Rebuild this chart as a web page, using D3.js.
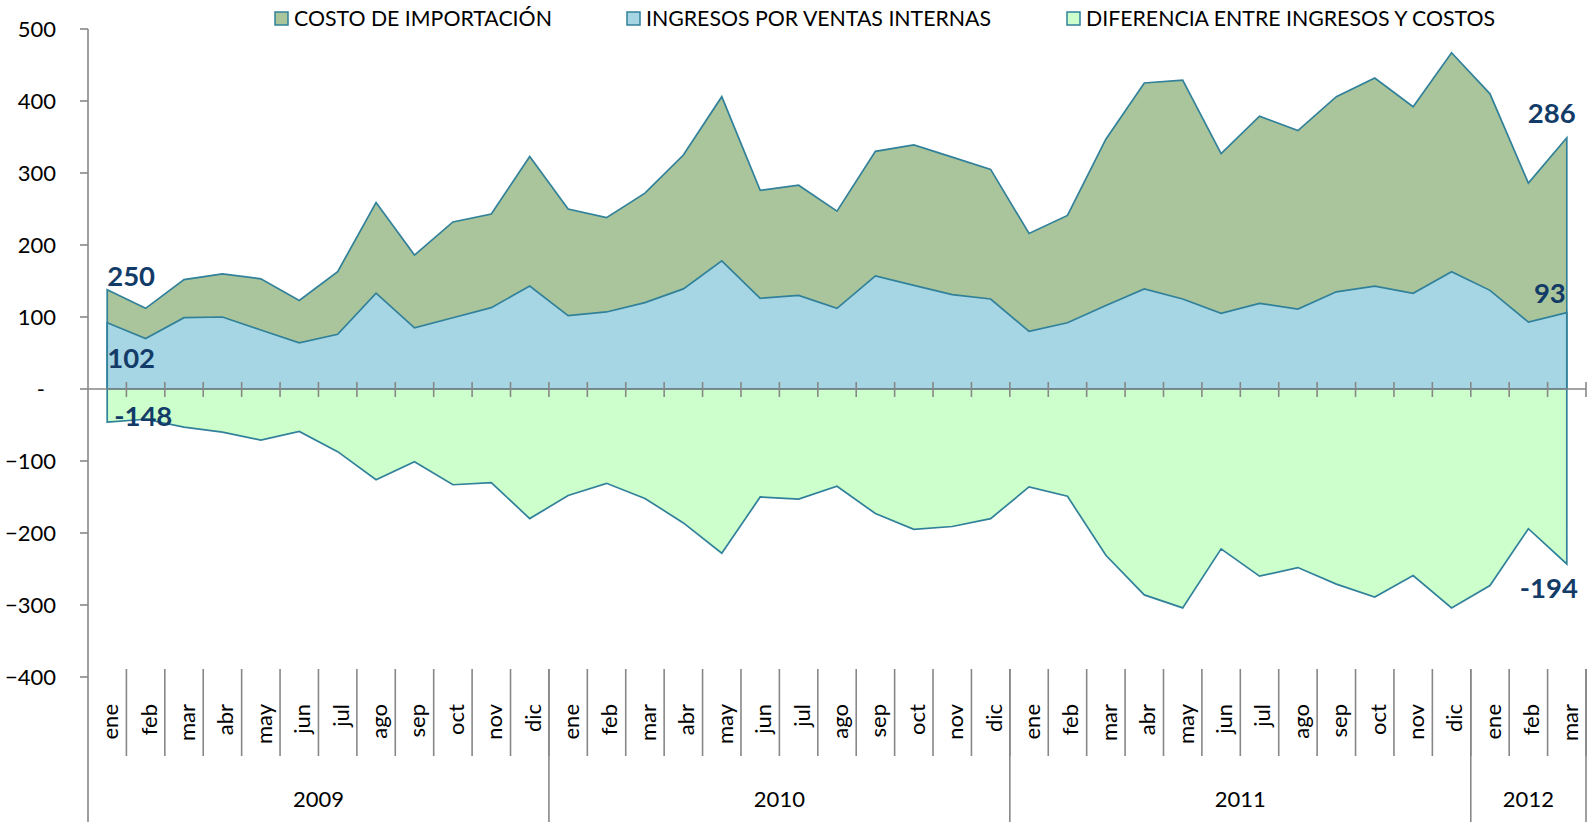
<!DOCTYPE html>
<html>
<head>
<meta charset="utf-8">
<script src="https://cdn.jsdelivr.net/npm/d3@7"></script>
<style>
  body { margin: 0; background: #ffffff; }
  svg text { font-family: Lato, "Open Sans", "Liberation Sans", sans-serif; }
</style>
</head>
<body>
<svg id="chart" width="1589" height="822"></svg>
<script>
// Meses y años del eje de categorías
const meses = ["ene", "feb", "mar", "abr", "may", "jun", "jul", "ago", "sep", "oct", "nov", "dic"];
const anios = ["2009", "2010", "2011", "2012"];
const mesesPorAnio = [12, 12, 12, 3];

// Series mensuales (millones)
const costo = [138, 112, 152, 160, 153, 123, 163, 259, 186, 232, 243, 323,
               250, 238, 272, 325, 406, 276, 283, 247, 330, 339, 322, 305,
               216, 241, 347, 425, 429, 327, 379, 359, 406, 432, 392, 467,
               410, 286, 349];
const ingresos = [92, 70, 99, 100, 82, 64, 76, 133, 85, 99, 113, 143,
                  102, 107, 120, 139, 178, 126, 130, 112, 157, 144, 131, 125,
                  80, 92, 116, 139, 125, 105, 119, 111, 135, 143, 133, 163,
                  137, 93, 106];
const diferencia = [-46, -42, -53, -60, -71, -59, -87, -126, -101, -133, -130, -180,
                    -148, -131, -152, -186, -228, -150, -153, -135, -173, -195, -191, -180,
                    -136, -149, -231, -286, -304, -222, -260, -248, -271, -289, -259, -304,
                    -273, -194, -243];

const yTicks = [500, 400, 300, 200, 100, 0, -100, -200, -300, -400];

const nombres = ["COSTO DE IMPORTACIÓN", "INGRESOS POR VENTAS INTERNAS", "DIFERENCIA ENTRE INGRESOS Y COSTOS"];
const colores = ["#aac49b", "#a6d5e3", "#ccffcc"];
const borde = "#31819a";
const colorEtiqueta = "#123b68";
const gris = "#878787";

// Índices de los meses cuyos valores se rotulan (ene 2010 y feb 2012)
const idxRotuloInicio = 12;
const idxRotuloFin = 37;

const periodos = anios.flatMap((a, k) =>
  meses.slice(0, mesesPorAnio[k]).map(m => ({ mes: m, anio: a })));
const indices = periodos.map((d, i) => i);

const svg = d3.select("#chart");

const plotLeft = 88, plotRight = 1586, plotTop = 29, plotBottom = 677;
const x = d3.scaleBand().domain(indices).range([plotLeft, plotRight]).padding(0);
const bw = x.bandwidth();
const xc = i => x(i) + bw / 2;
const y = d3.scaleLinear().domain([-400, 500]).range([plotBottom, plotTop]);

const seriesData = [costo, ingresos, diferencia];

// Áreas superpuestas (no apiladas), todas desde cero
const area = d3.area()
  .x((d, i) => xc(i))
  .y0(y(0))
  .y1(d => y(d));

svg.append("g").selectAll("path")
  .data(seriesData)
  .join("path")
  .attr("d", d => area(d) + "Z")
  .attr("fill", (d, k) => colores[k])
  .attr("stroke", borde)
  .attr("stroke-width", 1.7)
  .attr("stroke-linejoin", "miter");

// Eje horizontal en cero con marcas entre categorías
const ejeX = svg.append("g");
ejeX.append("line")
  .attr("x1", plotLeft).attr("x2", plotRight)
  .attr("y1", y(0)).attr("y2", y(0))
  .attr("stroke", gris).attr("stroke-width", 1.6);
ejeX.selectAll("line.tick")
  .data(indices)
  .join("line")
  .attr("class", "tick")
  .attr("x1", i => x(i) + bw).attr("x2", i => x(i) + bw)
  .attr("y1", y(0) - 7).attr("y2", y(0) + 8)
  .attr("stroke", gris).attr("stroke-width", 1.6);

// Eje vertical
const ejeY = svg.append("g");
ejeY.append("line")
  .attr("x1", plotLeft).attr("x2", plotLeft)
  .attr("y1", plotTop).attr("y2", 822)
  .attr("stroke", gris).attr("stroke-width", 1.6);
ejeY.selectAll("line.tick")
  .data(yTicks)
  .join("line")
  .attr("class", "tick")
  .attr("x1", plotLeft - 8).attr("x2", plotLeft)
  .attr("y1", d => y(d)).attr("y2", d => y(d))
  .attr("stroke", gris).attr("stroke-width", 1.6);
ejeY.selectAll("text")
  .data(yTicks)
  .join("text")
  .attr("x", d => d === 0 ? 45 : 56)
  .attr("y", d => y(d))
  .attr("dy", "0.35em")
  .attr("text-anchor", "end")
  .attr("font-size", 22)
  .attr("fill", "#000")
  .text(d => d === 0 ? "-" : d3.format("d")(d));

// Rótulos de meses (verticales) y separadores
const etiqTop = 669, etiqMes = 756;
const meta = svg.append("g");
meta.selectAll("line.mes")
  .data(indices)
  .join("line")
  .attr("class", "mes")
  .attr("x1", i => x(i) + bw).attr("x2", i => x(i) + bw)
  .attr("y1", etiqTop).attr("y2", etiqMes)
  .attr("stroke", gris).attr("stroke-width", 1.6);
meta.selectAll("text.mes")
  .data(periodos)
  .join("text")
  .attr("class", "mes")
  .attr("transform", (d, i) => `translate(${xc(i) + 3},${etiqTop + 35}) rotate(-90)`)
  .attr("text-anchor", "end")
  .attr("dy", "0.36em")
  .attr("font-size", 22)
  .attr("fill", "#000")
  .text(d => d.mes);

// Años
let acum = 0;
const bloques = anios.map((a, k) => {
  const b = { anio: a, ini: acum, fin: acum + mesesPorAnio[k] };
  acum += mesesPorAnio[k];
  return b;
});
meta.selectAll("line.anio")
  .data(bloques)
  .join("line")
  .attr("class", "anio")
  .attr("x1", b => x(b.fin - 1) + bw).attr("x2", b => x(b.fin - 1) + bw)
  .attr("y1", etiqTop).attr("y2", 822)
  .attr("stroke", gris).attr("stroke-width", 1.6);
meta.selectAll("text.anio")
  .data(bloques)
  .join("text")
  .attr("class", "anio")
  .attr("x", b => (x(b.ini) + x(b.fin - 1) + bw) / 2)
  .attr("y", 807)
  .attr("text-anchor", "middle")
  .attr("font-size", 22)
  .attr("fill", "#000")
  .text(b => b.anio);

// Rótulos de valores
const rot = svg.append("g")
  .attr("font-weight", "bold")
  .attr("font-size", 27.5)
  .attr("fill", colorEtiqueta);
const iF = indices.length - 1;
const rotulos = [
  { v: costo[idxRotuloInicio], x: xc(0) + 0, y: y(costo[0]) - 4, a: "start" },
  { v: ingresos[idxRotuloInicio], x: xc(0) + 0, y: y(0) - 21, a: "start" },
  { v: diferencia[idxRotuloInicio], x: xc(0) + 7, y: y(diferencia[0]) + 4, a: "start" },
  { v: costo[idxRotuloFin], x: xc(iF) - 15, y: y(costo[iF]) - 15, a: "middle" },
  { v: ingresos[idxRotuloFin], x: xc(iF) - 1, y: y(ingresos[iF]) - 10, a: "end" },
  { v: diferencia[idxRotuloFin], x: xc(iF) - 18, y: y(diferencia[iF]) + 34, a: "middle" }
];
rot.selectAll("text")
  .data(rotulos)
  .join("text")
  .attr("x", d => d.x)
  .attr("y", d => d.y)
  .attr("text-anchor", d => d.a)
  .text(d => d.v);

// Leyenda
const legX = [275, 627, 1067];
const leg = svg.append("g");
const item = leg.selectAll("g")
  .data(nombres)
  .join("g")
  .attr("transform", (d, k) => `translate(${legX[k]},12)`);
item.append("rect")
  .attr("width", 13).attr("height", 13)
  .attr("fill", (d, k) => colores[k])
  .attr("stroke", borde).attr("stroke-width", 1.5);
item.append("text")
  .attr("x", 19).attr("y", 6.5)
  .attr("dy", "0.36em")
  .attr("font-size", 21.3)
  .attr("fill", "#000")
  .text(d => d);
</script>
</body>
</html>
